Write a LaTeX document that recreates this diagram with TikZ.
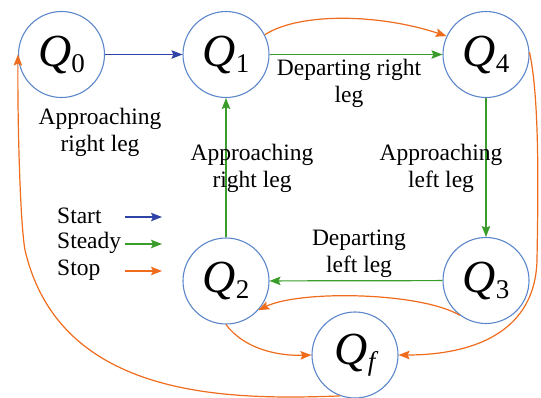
\documentclass[tikz,border=0pt]{standalone}
\usepackage{fontspec}
\setmainfont{Liberation Serif}
\usetikzlibrary{arrows.meta}

\definecolor{ringblue}{HTML}{5B86C9}
\definecolor{startblue}{HTML}{2F43A6}
\definecolor{steadygreen}{HTML}{3A9C2A}
\definecolor{stoporange}{HTML}{EE6C1C}

\newcommand{\stateQ}[1]{{\fontsize{46}{46}\selectfont\itshape Q}\raisebox{-6pt}{\fontsize{27}{27}\selectfont #1}}

\tikzset{
  state/.style={circle, draw=ringblue, line width=1.1pt, minimum size=86pt, inner sep=0pt},
  lbl/.style={font=\fontsize{23.5}{27}\selectfont, align=center, inner sep=0pt},
  tip/.style={-{Stealth[length=11pt,width=8.5pt,inset=2pt]}},
  startarr/.style={tip, draw=startblue, line width=1.2pt},
  steadyarr/.style={tip, draw=steadygreen, line width=1.2pt},
  stoparr/.style={tip, draw=stoporange, line width=1.2pt},
}

\begin{document}
\begin{tikzpicture}[x=1pt, y=-1pt]
  \useasboundingbox (0,0) rectangle (541,397);
  \clip (0,0) rectangle (541,397);

  % states
  \node[state] (q0) at (61.5,54.5) {\stateQ{0}};
  \node[state] (q1) at (226,54.5) {\stateQ{1}};
  \node[state] (q4) at (486,54.5) {\stateQ{4}};
  \node[state] (q2) at (226,281) {\stateQ{2}};
  \node[state] (q3) at (486,280.5) {\stateQ{3}};
  \node[state] (qf) at (355,355) {\stateQ{\itshape f}};

  % start and steady transitions
  \draw[startarr] (q0) -- (q1);
  \draw[steadyarr] (q1) -- (q4);
  \draw[steadyarr] (q4) -- (q3);
  \draw[steadyarr] (q3) -- (q2);
  \draw[steadyarr] (q2) -- (q1);

  % stop transitions
  \draw[stoparr] (q1.27) .. controls (300,12) and (380,14) .. (q4.155);
  \draw[stoparr] (q4.3) .. controls (540,100) and (538,200) .. (537,260)
                 .. controls (535,340) and (460,355) .. (qf.east);
  \draw[stoparr] (q3.233) .. controls (420,292) and (300,290) .. (q2.318);
  \draw[stoparr] (q2.south) .. controls (245,350) and (280,356) .. (qf.west);
  \draw[stoparr] (qf.250) .. controls (230,400) and (60,400) .. (25,250)
                 .. controls (20,222) and (17.5,120) .. (q0.west);

  % transition labels
  \node[lbl] (l0) at (100,132) {Approaching\\right leg};
  \node[lbl] (l1) at (349,83.5) {Departing right\\leg};
  \node[lbl] (l2) at (252,168) {Approaching\\right leg};
  \node[lbl] (l3) at (441,168) {Approaching\\left leg};
  \node[lbl] (l4) at (359,254) {Departing\\left leg};

  % legend
  \node[lbl, anchor=west] (kstart) at (57,216) {Start};
  \node[lbl, anchor=west] (ksteady) at (57,243) {Steady};
  \node[lbl, anchor=west] (kstop) at (57,270) {Stop};
  \coordinate (a1) at (125,217); \coordinate (b1) at (162,217);
  \coordinate (a2) at (125,244); \coordinate (b2) at (162,244);
  \coordinate (a3) at (125,271); \coordinate (b3) at (162,271);
  \draw[startarr] (a1) -- (b1);
  \draw[steadyarr] (a2) -- (b2);
  \draw[stoparr] (a3) -- (b3);
\end{tikzpicture}
\end{document}
